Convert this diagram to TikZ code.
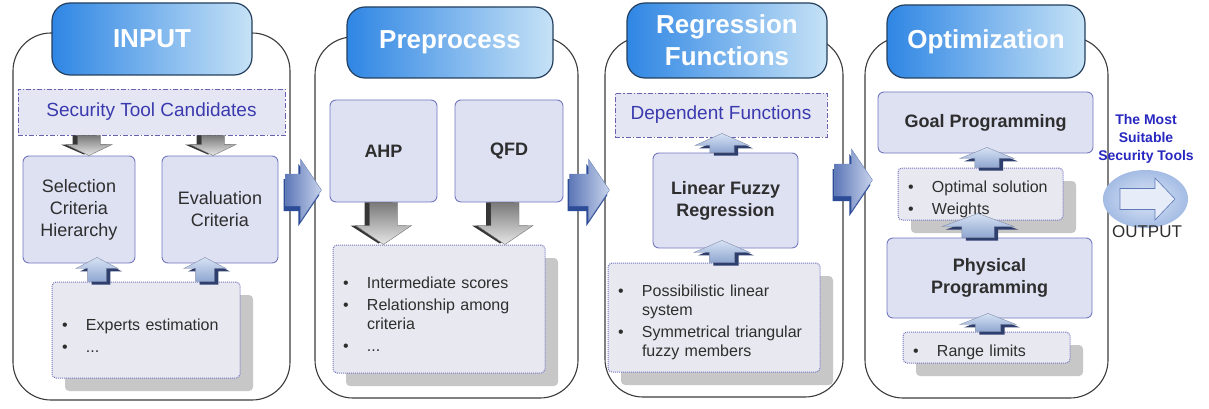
\documentclass[tikz,border=0pt]{standalone}
\usepackage{fontspec}
\setmainfont{Liberation Sans}
\usetikzlibrary{calc,shadows,shapes.geometric}
\definecolor{boxfill}{HTML}{DDE1F2}
\definecolor{boxline}{HTML}{7478C0}
\definecolor{dashfill}{HTML}{E4E6F4}
\definecolor{dashline}{HTML}{6A60B0}
\definecolor{bulfill}{HTML}{E8E8F0}
\definecolor{txt}{HTML}{2E2E2E}
\definecolor{bluetxt}{HTML}{3A3AAE}
\definecolor{outblue}{HTML}{2828C0}
\definecolor{hdrA}{HTML}{2F86E4}
\definecolor{hdrB}{HTML}{C6E2F6}
\definecolor{hdrline}{HTML}{24405E}
\definecolor{panelline}{HTML}{3C3C3C}
\definecolor{updark}{HTML}{2E3F6E}
\definecolor{upA}{HTML}{D6E2F4}
\definecolor{upB}{HTML}{8FA6D0}
\definecolor{dnA}{HTML}{7A7A7A}
\definecolor{dnB}{HTML}{E6E6E6}
\definecolor{dndark}{HTML}{363636}
\definecolor{rtA}{HTML}{C8D4EC}
\definecolor{rtB}{HTML}{5E78B8}
\definecolor{rtdark}{HTML}{2C4C98}
\definecolor{ellA}{HTML}{DCE6F6}
\definecolor{ellB}{HTML}{A4BCE4}

\newcommand\bul[1]{\par\hangindent=24pt\hangafter=1\noindent\hbox to 24pt{\textbullet\hss}#1\par}

% up block arrow: start, end (tip), head half width, head length
\newcommand\UpArr[4]{%
 \fill[updark] let \p1=#1, \p2=#2 in
   (\x2-0.45*#3+4pt,\y1-3pt) -- (\x2-0.45*#3+4pt,\y2-#4-3pt) -- (\x2-#3+4pt,\y2-#4-3pt) -- (\x2+4pt,\y2-3pt)
   -- (\x2+#3+4pt,\y2-#4-3pt) -- (\x2+0.45*#3+4pt,\y2-#4-3pt) -- (\x2+0.45*#3+4pt,\y1-3pt) -- cycle;
 \shade[top color=upA, bottom color=upB, draw=updark!60, line width=0.4pt] let \p1=#1, \p2=#2 in
   (\x2-0.45*#3,\y1) -- (\x2-0.45*#3,\y2-#4) -- (\x2-#3,\y2-#4) -- (\x2,\y2)
   -- (\x2+#3,\y2-#4) -- (\x2+0.45*#3,\y2-#4) -- (\x2+0.45*#3,\y1) -- cycle;
}
% down block arrow: start, end (tip), head half width, head length
\newcommand\DnArr[4]{%
 \fill[dndark] let \p1=#1, \p2=#2 in
   (\x2-0.5*#3-5pt,\y1) -- (\x2-0.5*#3-5pt,\y2+#4) -- (\x2-#3-5pt,\y2+#4) -- (\x2-5pt,\y2+1pt)
   -- (\x2+#3-5pt,\y2+#4) -- (\x2+0.5*#3-5pt,\y2+#4) -- (\x2+0.5*#3-5pt,\y1) -- cycle;
 \shade[top color=dnA, bottom color=dnB, draw=dndark!70, line width=0.4pt] let \p1=#1, \p2=#2 in
   (\x2-0.5*#3,\y1) -- (\x2-0.5*#3,\y2+#4) -- (\x2-#3,\y2+#4) -- (\x2,\y2)
   -- (\x2+#3,\y2+#4) -- (\x2+0.5*#3,\y2+#4) -- (\x2+0.5*#3,\y1) -- cycle;
}
% right 3D block arrow: start (left, mid height), end (tip x)
\newcommand\RtArr[2]{%
 \fill[rtdark] let \p1=#1, \p2=#2 in
   (\x1,\y1+11pt) -- (\x2-23pt,\y1+11pt) -- (\x2-23pt,\y1+26pt) -- (\x2-2pt,\y1-5pt)
   -- (\x2-23pt,\y1-36pt) -- (\x2-23pt,\y1-21pt) -- (\x1,\y1-21pt) -- cycle;
 \shade[left color=rtB, right color=rtA, draw=rtdark!70, line width=0.4pt] let \p1=#1, \p2=#2 in
   (\x1+2pt,\y1+16pt) -- (\x2-21pt,\y1+16pt) -- (\x2-21pt,\y1+31pt) -- (\x2,\y1)
   -- (\x2-21pt,\y1-31pt) -- (\x2-21pt,\y1-16pt) -- (\x1+2pt,\y1-16pt) -- cycle;
}

\tikzset{
 panel/.style={draw=panelline, fill=white, rounded corners=38pt, line width=1.1pt},
 hdr/.style={rounded corners=18pt, draw=hdrline, line width=1.2pt, left color=hdrA, right color=hdrB,
   text=white, font=\bfseries\fontsize{26}{32}\selectfont, inner sep=0pt},
 pbox/.style={draw=boxline, fill=boxfill, rounded corners=6pt, line width=0.9pt, text=txt,
   align=center, inner sep=0pt, font=\fontsize{18}{22}\selectfont},
 bpbox/.style={pbox, font=\bfseries\fontsize{18}{22}\selectfont},
 dbox/.style={draw=dashline, fill=dashfill, dash pattern=on 5pt off 2pt on 1.5pt off 2pt, line width=0.9pt,
   text=bluetxt, inner sep=0pt, font=\fontsize{19}{22}\selectfont},
 bbox/.style={draw=boxline, fill=bulfill, densely dotted, line width=1pt, rounded corners=4pt,
   text=txt, inner xsep=10pt, inner ysep=0pt, align=left, font=\fontsize{16}{19}\selectfont,
   execute at begin node={\setlength\parskip{3pt}\hyphenpenalty=10000\exhyphenpenalty=10000},
   drop shadow={shadow xshift=13pt, shadow yshift=-13pt, fill=black!22, opacity=1, draw=none}},
}

\begin{document}
\begin{tikzpicture}[x=1pt,y=-1pt]
\useasboundingbox (0,0) rectangle (1209,409);
\fill[white] (0,0) rectangle (1209,409);

% panels
\node[panel, minimum width=277pt, minimum height=367pt] (p1) at (151.5,216.5) {};
\node[panel, minimum width=263pt, minimum height=361pt] (p2) at (446.5,217.5) {};
\node[panel, minimum width=238pt, minimum height=360pt] (p3) at (724,217) {};
\node[panel, minimum width=243pt, minimum height=361pt] (p4) at (986.5,217.5) {};

% headers
\node[hdr, minimum width=200pt, minimum height=72pt] (h1) at (152,39) {INPUT};
\node[hdr, minimum width=206pt, minimum height=71pt] (h2) at (450,42.5) {Preprocess};
\node[hdr, minimum width=200pt, minimum height=75pt, align=center] (h3) at (727,40.5) {Regression\\Functions};
\node[hdr, minimum width=198pt, minimum height=73pt] (h4) at (986,41.5) {Optimization};

% panel 1
\node[dbox, minimum width=267pt, minimum height=46pt] (stc) at (151.5,112) {Security Tool Candidates};
\node[pbox, minimum width=112pt, minimum height=107pt] (sch) at (79,209.5) {Selection\\Criteria\\Hierarchy};
\node[pbox, minimum width=116pt, minimum height=107pt] (ec) at (220,209.5) {Evaluation\\Criteria};
\node[bbox, text width=168pt, minimum height=96pt] (exp) at (146,330) {\bul{Experts estimation}\bul{...}};

% panel 2
\node[bpbox, minimum width=107pt, minimum height=102pt] (ahp) at (383.5,151) {AHP};
\node[bpbox, minimum width=108pt, minimum height=102pt] (qfd) at (509,151) {QFD};
\node[bbox, text width=192pt, minimum height=128pt] (inter) at (439,309)
  {\bul{Intermediate scores}\bul{Relationship among criteria}\bul{...}};

% panel 3
\node[dbox, minimum width=212pt, minimum height=44pt] (df) at (721,115) {Dependent Functions};
\node[bpbox, minimum width=145pt, minimum height=95pt] (lfr) at (725.5,200.5) {Linear Fuzzy\\Regression};
\node[bbox, text width=192pt, minimum height=109pt] (poss) at (714,317.5)
  {\bul{Possibilistic linear system}\bul{Symmetrical triangular fuzzy members}};

% panel 4
\node[bpbox, minimum width=215pt, minimum height=61pt] (gp) at (985.5,122.5) {Goal Programming};
\node[bbox, text width=145pt, minimum height=52pt] (opt) at (980.5,194) {\bul{Optimal solution}\bul{Weights}};
\node[bpbox, minimum width=205pt, minimum height=80pt] (pp) at (989.5,278) {Physical\\Programming};
\node[bbox, text width=147pt, minimum height=31pt] (rl) at (986.5,347.5) {\bul{Range limits}};

% output
\node[text=outblue, align=center, font=\bfseries\fontsize{14}{18}\selectfont] (tmost) at (1146,139)
  {The Most\\Suitable\\Security Tools};
\node[ellipse, minimum width=85pt, minimum height=58pt, inner color=ellA, outer color=ellB] (out) at (1145.5,199) {};
\filldraw[fill=ellA!70!white, draw=rtB, line width=0.6pt]
  ([shift={(-25.5,-10.5)}]out.center) -- ([shift={(9.5,-10.5)}]out.center) -- ([shift={(9.5,-21)}]out.center)
  -- ([shift={(29.5,0)}]out.center) -- ([shift={(9.5,21)}]out.center) -- ([shift={(9.5,10.5)}]out.center)
  -- ([shift={(-25.5,10.5)}]out.center) -- cycle;
\node[text=txt, font=\fontsize{17}{20}\selectfont] (outlbl) at (1147,232) {OUTPUT};

% arrows panel 1
\DnArr{(stc.south)}{([xshift=10pt]sch.north)}{23pt}{11pt}
\DnArr{(stc.south)}{([xshift=-7pt]ec.north)}{23pt}{11pt}
\UpArr{(exp.north)}{([xshift=18pt,yshift=6pt]sch.south)}{21pt}{11pt}
\UpArr{(exp.north)}{([xshift=-15pt,yshift=6pt]ec.south)}{21pt}{11pt}

% arrows panel 2
\DnArr{(ahp.south)}{(inter.north -| ahp.south)}{28pt}{19pt}
\DnArr{(qfd.south)}{($(inter.north -| qfd.south)+(-4,0)$)}{28pt}{19pt}

% arrows panel 3
\UpArr{(lfr.north)}{([xshift=1pt,yshift=4pt]df.south)}{27pt}{12pt}
\UpArr{(poss.north)}{([xshift=-3.5pt,yshift=8pt]lfr.south)}{28pt}{12pt}

% arrows panel 4
\UpArr{(opt.north)}{([xshift=1.5pt,yshift=6pt]gp.south)}{27pt}{11pt}
\UpArr{(pp.north)}{([xshift=-2.5pt,yshift=7pt]opt.south)}{36pt}{13pt}
\UpArr{(rl.north)}{([xshift=-1.5pt,yshift=5pt]pp.south)}{28pt}{11pt}

% arrows between panels
\RtArr{([xshift=-7pt,yshift=26.5pt]p1.east)}{([xshift=7pt]p2.west)}
\RtArr{([xshift=-11pt,yshift=27.5pt]p2.east)}{([xshift=5pt]p3.west)}
\RtArr{([xshift=-11pt,yshift=37pt]p3.east)}{([xshift=8pt]p4.west)}
\end{tikzpicture}
\end{document}
